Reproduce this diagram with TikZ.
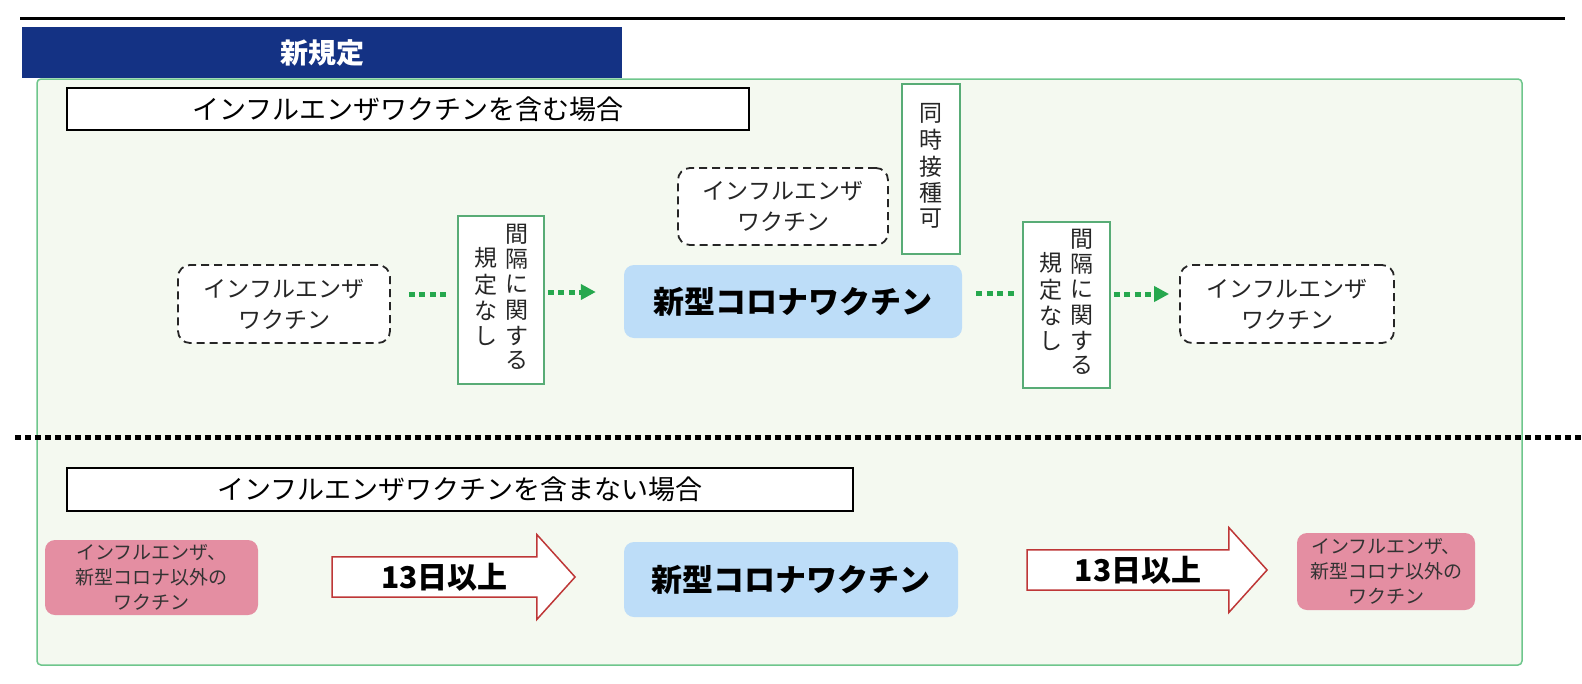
\documentclass[tikz,border=0pt]{standalone}
\usepackage{fontspec}
\setmainfont{Noto Sans CJK JP}
\usetikzlibrary{shapes.arrows,arrows.meta}

\definecolor{navy}{RGB}{20,50,132}
\definecolor{panelgreen}{RGB}{110,198,140}
\definecolor{panelfill}{RGB}{244,249,240}
\definecolor{boxgreen}{RGB}{88,172,118}
\definecolor{dotgreen}{RGB}{38,168,78}
\definecolor{coronablue}{RGB}{189,221,248}
\definecolor{otherpink}{RGB}{228,142,162}
\definecolor{arrowred}{RGB}{190,55,55}

\tikzset{
  titlebar/.style={fill=navy, text=white, minimum width=600pt, minimum height=51pt,
    font=\fontsize{28}{30}\selectfont\bfseries},
  panel/.style={draw=panelgreen, fill=panelfill, line width=1.5pt, rounded corners=4pt,
    minimum width=1485pt, minimum height=586pt},
  casebox/.style={draw=black, fill=white, line width=1.5pt, minimum height=42pt,
    font=\fontsize{27}{30}\selectfont},
  flubox/.style={draw=black!85, fill=white, dash pattern=on 8pt off 5pt, line width=1.8pt,
    rounded corners=12pt, align=center, font=\fontsize{23}{31}\selectfont, text=black!85},
  gapbox/.style={draw=boxgreen, fill=white, line width=1.5pt,
    font=\fontsize{23}{24.5}\selectfont, text=black!85},
  coronabox/.style={fill=coronablue, rounded corners=10pt,
    font=\fontsize{31}{34}\selectfont\bfseries},
  otherbox/.style={fill=otherpink, rounded corners=10pt, align=center,
    font=\fontsize{19}{25}\selectfont, text=black!80},
  daysarrow/.style={single arrow, draw=arrowred, fill=white, line width=1.5pt,
    single arrow head extend=22pt, single arrow tip angle=96, inner ysep=5pt, inner xsep=0pt,
    minimum width=85pt, font=\fontsize{30}{32}\selectfont\bfseries},
  dotline/.style={dotgreen, line width=5pt, dash pattern=on 6pt off 4.5pt},
  dotarrow/.style={dotline, -{Triangle[length=15pt,width=15pt]}},
}
\newcommand{\vstack}[1]{\begin{tabular}[c]{@{}c@{}}#1\end{tabular}}

\begin{document}
\begin{tikzpicture}[x=1pt,y=-1pt]
\useasboundingbox (0,0) rectangle (1582,683);

% header
\draw[line width=3pt] (20,18) -- (1565,18);
\node[panel] (panel) at (779.5,372) {};
\node[titlebar] (title) at (322,52.5) {新規定};

% with influenza
\node[casebox, minimum width=682pt] (case1) at (408,109) {インフルエンザワクチンを含む場合};
\node[flubox, minimum width=212pt, minimum height=78pt] (flu1) at (284,304) {インフルエンザ\\ワクチン};
\node[flubox, minimum width=210pt, minimum height=77pt] (flu2) at (783,206.5) {インフルエンザ\\ワクチン};
\node[flubox, minimum width=214pt, minimum height=78pt] (flu3) at (1287,304) {インフルエンザ\\ワクチン};
\node[gapbox, minimum width=58pt, minimum height=170pt] (same) at (931,169) {\vstack{同\\時\\接\\種\\可}};
\node[gapbox, minimum width=86pt, minimum height=168pt] (gap1) at (501,300) {\vstack{規\\定\\な\\し}\hspace{8pt}\vstack{間\\隔\\に\\関\\す\\る}};
\node[gapbox, minimum width=87pt, minimum height=166pt] (gap2) at (1066.5,305) {\vstack{規\\定\\な\\し}\hspace{8pt}\vstack{間\\隔\\に\\関\\す\\る}};
\node[coronabox, minimum width=338pt, minimum height=73pt] (corona1) at (793,301.5) {新型コロナワクチン};

\draw[dotline, shorten <=18pt, shorten >=8pt] ([yshift=10pt]flu1.east) -- ([yshift=10pt]flu1.east -| gap1.west);
\draw[dotarrow, shorten <=3pt, shorten >=28pt] ([yshift=8pt]gap1.east) -- ([yshift=8pt]gap1.east -| corona1.west);
\draw[dotline, shorten <=14pt, shorten >=6pt] ([yshift=8pt]corona1.east) -- ([yshift=8pt]corona1.east -| gap2.west);
\draw[dotarrow, shorten <=3pt, shorten >=10pt] ([yshift=11pt]gap2.east) -- ([yshift=11pt]gap2.east -| flu3.west);

% separator
\draw[line width=5pt, dash pattern=on 6pt off 4pt] (15,437) -- (1582,437);

% without influenza
\node[casebox, minimum width=786pt, minimum height=43pt] (case2) at (460,489.5) {インフルエンザワクチンを含まない場合};
\node[otherbox, minimum width=213pt, minimum height=75pt] (other1) at (151.5,577.5) {インフルエンザ、\\新型コロナ以外の\\ワクチン};
\node[daysarrow, minimum height=243pt] (days1) at (444.5,577) {13日以上};
\node[coronabox, minimum width=334pt, minimum height=75pt] (corona2) at (791,579.5) {新型コロナワクチン};
\node[daysarrow, minimum height=240pt] (days2) at (1138,570) {13日以上};
\node[otherbox, minimum width=178pt, minimum height=77pt] (other2) at (1386,571.5) {インフルエンザ、\\新型コロナ以外の\\ワクチン};
\end{tikzpicture}
\end{document}
